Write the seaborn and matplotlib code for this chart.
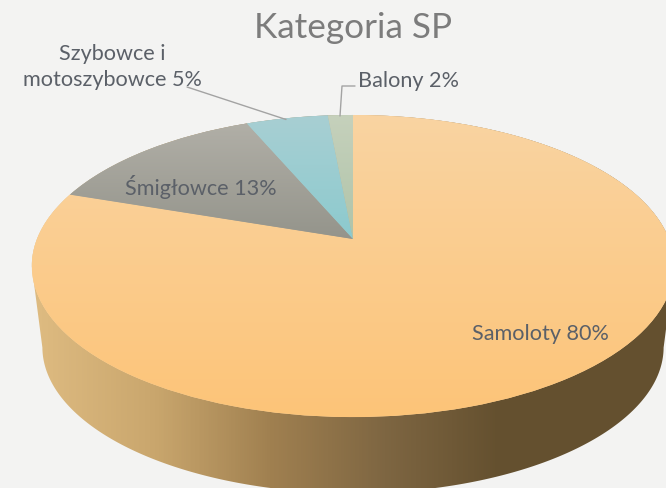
import numpy as np
import matplotlib
matplotlib.use("Agg")
import matplotlib.pyplot as plt
from matplotlib.patches import Polygon
from matplotlib.path import Path
from matplotlib.transforms import Transform
import seaborn as sns

# Data
categories = ["Samoloty", "Śmigłowce", "Szybowce i motoszybowce", "Balony"]
shares = [80.2, 13.4, 4.9, 1.5]
labels = ["Samoloty 80%", "Śmigłowce 13%", "Szybowce i\nmotoszybowce 5%", "Balony 2%"]
title = "Kategoria SP"

# Styles
BG = "#F3F3F2"
TEXT = "#5B6068"
TITLE = "#7C7C7C"
LEADER = "#A3A3A3"
face_gradients = [
    ["#F9D4A2", "#FDC478"],
    ["#B1AFA7", "#94948B"],
    ["#A8CFD3", "#8CCACE"],
    ["#C6D1BC", "#AFC4A9"],
]
wall_colors = ["#DDBA80", "#C9A66D", "#A08050", "#7E6642", "#64502F"]
WALL_X = (40, 500)

sns.set_theme(style="white")
plt.rcParams["font.family"] = ["Lato", "DejaVu Sans"]


class Perspective(Transform):
    """Tilts the flat unit pie so that its circle becomes the receding disc."""
    input_dims = output_dims = 2

    def __init__(self, cx, cy, a, d, c):
        super().__init__()
        self.p = (cx, cy, a, d, c)

    def transform_non_affine(self, xy):
        cx, cy, a, d, c = self.p
        xy = np.asarray(xy, float)
        w = 1 + c * xy[:, 1]
        return np.column_stack([cx + a * xy[:, 0] / w, cy - d * xy[:, 1] / w])

    def transform_path_non_affine(self, path):
        return Path(self.transform_non_affine(path.vertices), path.codes)


fig = plt.figure(figsize=(6.66, 4.89), dpi=100, facecolor=BG)
ax = fig.add_axes([0, 0, 1, 1])

top = Perspective(353, 240, 316, 146.2, 0.179)
base = Perspective(353, 322, 305.6, 141.4, 0.179)

wedges, _ = ax.pie(shares, startangle=90, counterclock=False, radius=1,
                   colors=[g[0] for g in face_gradients],
                   wedgeprops=dict(linewidth=0))

# Side wall: outline of the disc swept down to the base
t = np.linspace(0, 2 * np.pi, 721)
circle = np.column_stack([np.cos(t), np.sin(t)])
upper = top.transform_non_affine(circle)
lower = base.transform_non_affine(circle)
front = lower[lower[:, 1] > 347]
front = front[np.argsort(front[:, 0])]
back = upper[upper[:, 1] < 270]
back = back[np.argsort(-back[:, 0])]
wall = Polygon(np.vstack([front, back]), closed=True, facecolor="none",
               edgecolor="none", transform=ax.transData)
ax.add_patch(wall)
wall_cmap = sns.blend_palette(wall_colors, as_cmap=True)
ramp = np.clip((np.arange(0, 700) - WALL_X[0]) / (WALL_X[1] - WALL_X[0]), 0, 1)
im = ax.imshow(ramp[None, :], cmap=wall_cmap, vmin=0, vmax=1, aspect="auto",
               extent=(0, 700, 500, 100), zorder=1)
im.set_clip_path(wall)

# Top face: every slice carries its own vertical gradient
for wedge, grad in zip(wedges, face_gradients):
    wedge.set_transform(top + ax.transData)
    wedge.set_zorder(2)
    ext = top.transform_path(wedge.get_path()).get_extents()
    cmap = sns.blend_palette(grad, as_cmap=True)
    img = ax.imshow(np.linspace(0, 1, 256)[:, None], cmap=cmap, aspect="auto",
                    extent=(ext.x0, ext.x1, ext.y1, ext.y0), zorder=3)
    img.set_clip_path(wedge)

ax.set_aspect("auto")
ax.set_xlim(0, 666)
ax.set_ylim(489, 0)
ax.axis("off")

# Text
ax.text(353.5, 28, title, ha="center", va="center", fontsize=25.3, color=TITLE, zorder=6)
label_pos = [(540.5, 334), (201, 187), (112, 67), (408, 81)]
for txt, (x, y) in zip(labels, label_pos):
    ax.text(x, y, txt, ha="center", va="center", fontsize=15.6, color=TEXT,
            linespacing=1.42, zorder=6)

# Leader lines
ax.plot([187, 286], [88, 120.5], color=LEADER, lw=1, zorder=5)
ax.plot([355, 342, 340], [87, 87, 117], color=LEADER, lw=1, zorder=5)

fig.savefig("out.png", dpi=100, facecolor=BG)
